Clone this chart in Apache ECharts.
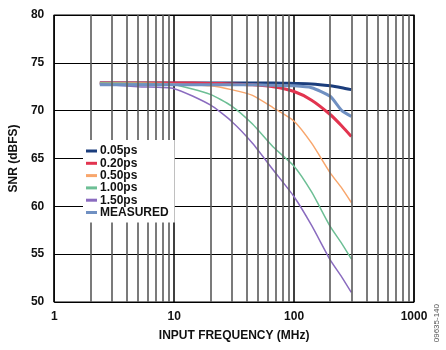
<!DOCTYPE html>
<html>
<head>
<meta charset="utf-8">
<script src="https://cdn.jsdelivr.net/npm/echarts@6/dist/echarts.min.js"></script>
<style>
  html, body { margin: 0; padding: 0; background: #fff; }
  #chart { width: 446px; height: 350px; }
</style>
</head>
<body>
<div id="chart"></div>
<script>
// input frequency (MHz) for every curve
var freqs = [2.4, 5, 10, 20, 30, 45, 67, 100, 140, 200, 250, 300];

// SNR (dBFS) per jitter value
var snr005 = [72.9, 72.9, 72.9, 72.9, 72.9, 72.9, 72.9, 72.85, 72.8, 72.6, 72.4, 72.2];
var snr020 = [72.9, 72.9, 72.9, 72.85, 72.8, 72.7, 72.5, 72.0, 71.1, 69.6, 68.4, 67.3];
var snr050 = [72.9, 72.9, 72.8, 72.6, 72.2, 71.6, 70.3, 68.9, 66.6, 63.5, 61.9, 60.4];
var snr100 = [72.9, 72.85, 72.7, 71.7, 70.5, 68.6, 66.2, 64.2, 61.5, 57.9, 56.1, 54.5];
var snr150 = [72.8, 72.5, 72.3, 70.6, 68.9, 66.6, 63.8, 61.0, 58.0, 54.4, 52.6, 51.0];
var snrMeasured = [72.7, 72.7, 72.7, 72.7, 72.7, 72.7, 72.65, 72.6, 72.4, 71.5, 70.0, 69.4];

var seriesNames = ['0.05ps', '0.20ps', '0.50ps', '1.00ps', '1.50ps', 'MEASURED'];
var seriesValues = [snr005, snr020, snr050, snr100, snr150, snrMeasured];
var seriesColors = ['#1b3d7c', '#e2344f', '#f8a66c', '#6dbf95', '#8a6bbf', '#7090c2'];
var seriesWidths = [3, 3, 1.5, 1.5, 1.5, 3];

// minor decade lines of the log grid
var minorLines = [2, 3, 4, 5, 6, 7, 8, 9, 20, 30, 40, 50, 60, 70, 80, 90, 200, 300, 400, 500, 600, 700, 800, 900];

var yTicks = [50, 55, 60, 65, 70, 75, 80];

function pairs(xs, ys) {
    var out = [];
    for (var i = 0; i < xs.length; i++) {
        out.push([xs[i], ys[i]]);
    }
    return out;
}

var chart = echarts.init(document.getElementById('chart'));

var series = [{
    name: 'grid',
    type: 'line',
    data: [],
    silent: true,
    z: 1,
    markLine: {
        silent: true,
        symbol: 'none',
        label: { show: false },
        animation: false,
        lineStyle: { color: '#5a5a5a', width: 1.6, type: 'solid' },
        data: minorLines.map(function (v) { return { xAxis: v }; })
    }
}];

for (var i = 0; i < seriesNames.length; i++) {
    series.push({
        name: seriesNames[i],
        type: 'line',
        data: pairs(freqs, seriesValues[i]),
        symbol: 'none',
        smooth: 0.2,
        z: 3,
        color: seriesColors[i],
        lineStyle: { color: seriesColors[i], width: seriesWidths[i] }
    });
}

var options = {
    animation: false,
    backgroundColor: '#fff',
    textStyle: { fontFamily: 'Liberation Sans' },
    grid: {
        left: 54,
        right: 32,
        top: 15,
        bottom: 48,
        show: true,
        borderColor: '#000',
        borderWidth: 1.2,
        backgroundColor: 'transparent'
    },
    legend: {
        data: seriesNames,
        orient: 'vertical',
        left: 83,
        top: 140,
        z: 20,
        itemWidth: 11,
        itemHeight: 3,
        itemGap: 0.3,
        icon: 'rect',
        padding: [5, 6, 4, 3],
        backgroundColor: '#fff',
        textStyle: { fontSize: 12, fontWeight: 'bold', color: '#111', padding: [0, 0, 0, -2] }
    },
    xAxis: {
        type: 'log',
        logBase: 10,
        min: 1,
        max: 1000,
        name: 'INPUT FREQUENCY (MHz)',
        nameLocation: 'middle',
        nameGap: 28,
        nameTextStyle: { fontSize: 12, fontWeight: 'bold', color: '#111' },
        axisLine: { show: false },
        axisTick: { show: false },
        axisLabel: {
            fontSize: 12, fontWeight: 'bold', color: '#111', margin: 9,
            formatter: function (v) { return String(v); }
        },
        splitLine: { show: true, lineStyle: { color: '#000', width: 1.5 } }
    },
    yAxis: {
        type: 'value',
        min: yTicks[0],
        max: yTicks[yTicks.length - 1],
        interval: 5,
        name: 'SNR (dBFS)',
        nameLocation: 'middle',
        nameGap: 32,
        nameTextStyle: { fontSize: 12, fontWeight: 'bold', color: '#111' },
        axisLine: { show: false },
        axisTick: { show: false },
        axisLabel: { fontSize: 12, fontWeight: 'bold', color: '#111', margin: 10 },
        splitLine: { show: true, lineStyle: { color: '#000', width: 1 } }
    },
    graphic: [{
        type: 'text',
        left: 433,
        top: 304,
        rotation: Math.PI / 2,
        style: { text: '09635-140', fontSize: 8, fill: '#555', fontFamily: 'Liberation Sans' }
    }],
    series: series
};

chart.setOption(options);
</script>
</body>
</html>
